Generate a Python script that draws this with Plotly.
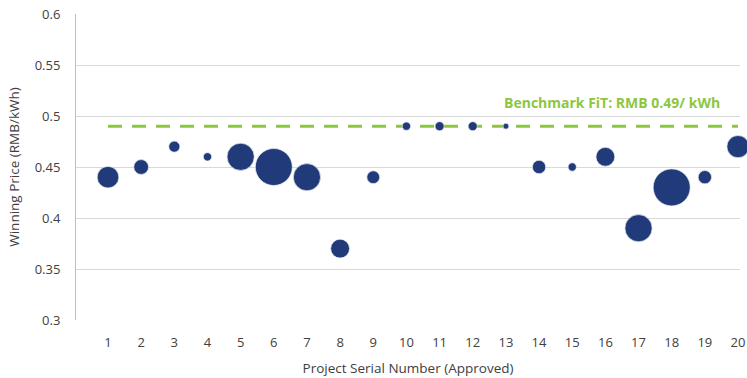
import plotly.graph_objects as go

projects = list(range(1, 21))
prices = [0.44, 0.45, 0.47, 0.46, 0.46, 0.45, 0.44, 0.37, 0.44, 0.49,
          0.49, 0.49, 0.49, 0.45, 0.45, 0.46, 0.39, 0.43, 0.44, 0.47]
capacity_mw = [34, 16, 9, 5, 54, 100, 54, 26, 12, 5,
               6, 6, 2.5, 13, 5, 26, 54, 100, 13, 36]
benchmark = 0.49
benchmark_label = "Benchmark FiT: RMB 0.49/ kWh"
x_ticks = [str(i) for i in projects]

FONT = "'Open Sans', sans-serif"
TEXT = "#404040"

fig = go.Figure()
fig.add_trace(go.Scatter(
    x=[projects[0], projects[-1]], y=[benchmark, benchmark], mode="lines",
    line=dict(color="#8dc63f", width=3, dash="14px,10px"),
    hoverinfo="skip", showlegend=False, cliponaxis=False))
fig.add_trace(go.Scatter(
    x=projects, y=prices, mode="markers",
    marker=dict(size=capacity_mw, sizemode="area",
                sizeref=2.0 * max(capacity_mw) / (37 ** 2),
                color="#213a79", opacity=1,
                line=dict(color="#e8ecf4", width=0.7)),
    showlegend=False, cliponaxis=False))

fig.add_annotation(x=19.52, y=0.502, xref="x", yref="y", text="<b>" + benchmark_label + "</b>",
                   showarrow=False, xanchor="right", yanchor="bottom",
                   font=dict(family=FONT, size=14, color="#8dc63f"))

fig.update_layout(
    width=747, height=378,
    margin=dict(l=76, r=7, t=14, b=58, autoexpand=False),
    paper_bgcolor="white", plot_bgcolor="white",
    font=dict(family=FONT, color=TEXT),
    xaxis=dict(range=[0.035, 20.06], tickmode="array", tickvals=projects, ticktext=x_ticks,
               showgrid=False, zeroline=False, showline=False, ticks="",
               automargin=False, ticklabelstandoff=13, ticklabeloverflow="allow",
               tickfont=dict(size=13, color=TEXT),
               title=dict(text="Project Serial Number (Approved)", font=dict(size=13.5, color=TEXT), standoff=13)),
    yaxis=dict(range=[0.3, 0.6], tick0=0.3, dtick=0.05,
               showgrid=True, gridcolor="#d9d9d9", gridwidth=1,
               zeroline=False, showline=True, linecolor="#bfbfbf", linewidth=1,
               ticks="", ticklabelstandoff=12, automargin=False,
               tickfont=dict(size=13, color=TEXT),
               title=dict(text="Winning Price (RMB/kWh)", font=dict(size=13.5, color=TEXT), standoff=11)),
)
fig.write_html("out.html", config={"displayModeBar": False},
               post_script="document.body.style.margin='0';document.body.style.overflow='hidden';")
